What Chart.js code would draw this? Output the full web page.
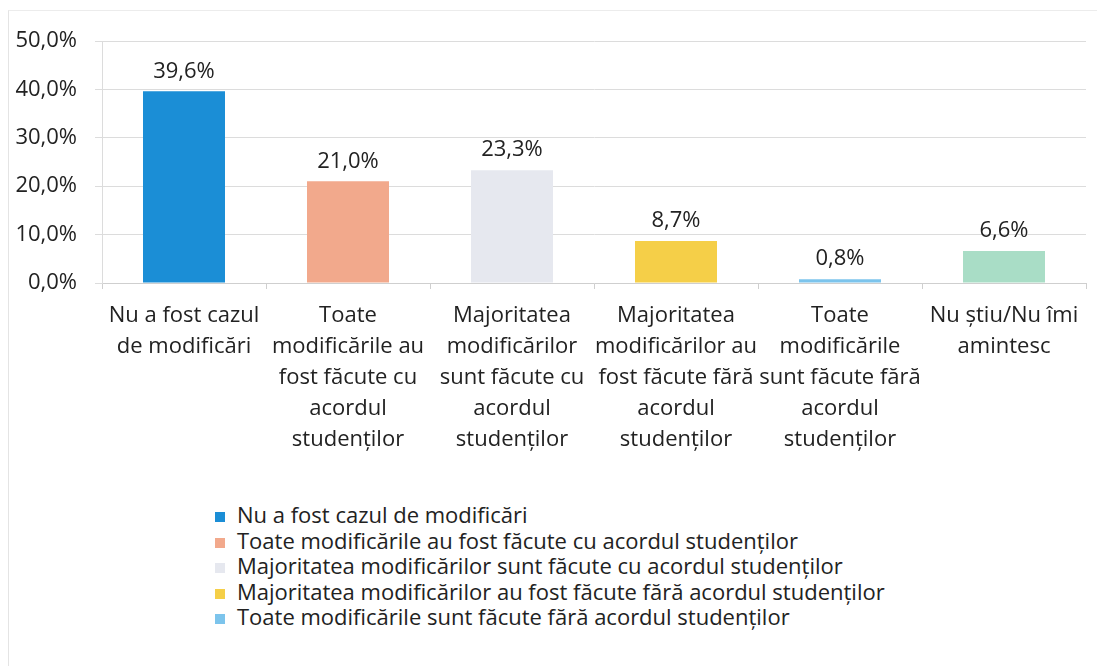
<!DOCTYPE html>
<html>
<head>
<meta charset="utf-8">
<script src="https://cdn.jsdelivr.net/npm/chart.js@4/dist/chart.umd.min.js"></script>
<style>
  html, body { margin: 0; padding: 0; background: #fff; overflow: hidden; }
  #wrap { position: relative; width: 1097px; height: 666px; }
  #frame { position: absolute; left: 8px; top: 10px; right: 0; bottom: 0; border-left: 1px solid #e4e4e4; border-top: 1px solid #ececec; }
  canvas { position: absolute; left: 0; top: 0; }
  #legend { position: absolute; left: 215px; top: 502px; font-family: "Open Sans", sans-serif; font-size: 22px; color: #222; }
  #legend div { height: 25.5px; line-height: 25.5px; white-space: nowrap; }
  #legend span { display: inline-block; width: 10px; height: 10px; margin-right: 12px; vertical-align: 1px; }
</style>
</head>
<body>
<div id="wrap">
  <div id="frame"></div>
  <canvas id="chart" width="1097" height="470"></canvas>
  <div id="legend"></div>
</div>
<script>
const categories = [
  ['Nu a fost cazul', 'de modificări'],
  ['Toate', 'modificările au', 'fost făcute cu', 'acordul', 'studenților'],
  ['Majoritatea', 'modificărilor', 'sunt făcute cu', 'acordul', 'studenților'],
  ['Majoritatea', 'modificărilor au', 'fost făcute fără', 'acordul', 'studenților'],
  ['Toate', 'modificările', 'sunt făcute fără', 'acordul', 'studenților'],
  ['Nu știu/Nu îmi', 'amintesc']
]
const legendNames = [
  'Nu a fost cazul de modificări',
  'Toate modificările au fost făcute cu acordul studenților',
  'Majoritatea modificărilor sunt făcute cu acordul studenților',
  'Majoritatea modificărilor au fost făcute fără acordul studenților',
  'Toate modificările sunt făcute fără acordul studenților'
]
const values = [39.6, 21.0, 23.3, 8.7, 0.8, 6.6]
const yTicks = [0, 10, 20, 30, 40, 50]
const barColors = ['#1b8ed6', '#f2a98c', '#e6e8ef', '#f5cf48', '#7cc4ec', '#a9ddc6']

const fmt = v => v.toFixed(1).replace('.', ',') + '%'
const font = '"Open Sans", sans-serif'

const valueLabels = {
  id: 'valueLabels',
  afterDatasetsDraw(chart) {
    const { ctx } = chart
    ctx.save()
    ctx.font = '22px ' + font
    ctx.fillStyle = '#222'
    ctx.textAlign = 'center'
    ctx.textBaseline = 'middle'
    chart.getDatasetMeta(0).data.forEach((bar, i) => {
      ctx.fillText(fmt(values[i]), bar.x, bar.y - 20)
    })
    ctx.restore()
  }
}

new Chart(document.getElementById('chart'), {
  type: 'bar',
  data: {
    labels: categories,
    datasets: [{
      data: values,
      backgroundColor: barColors,
      borderWidth: 0,
      categoryPercentage: 1,
      barPercentage: 0.5
    }]
  },
  options: {
    responsive: false,
    animation: false,
    layout: { padding: { top: 41, right: 11, bottom: 0, left: 0 } },
    plugins: { legend: { display: false }, tooltip: { enabled: false } },
    scales: {
      x: {
        afterFit: s => { s.height = 187 },
        grid: { drawOnChartArea: false, drawTicks: true, tickLength: 6, color: '#cfcfcf' },
        border: { color: '#cfcfcf' },
        ticks: { color: '#222', padding: 11, maxRotation: 0, autoSkip: false, font: { family: font, size: 22, lineHeight: 1.41 } }
      },
      y: {
        min: 0,
        max: 50,
        afterFit: s => { s.width = 102 },
        afterBuildTicks: s => { s.ticks = yTicks.map(v => ({ value: v })) },
        grid: { color: '#dcdcdc', tickLength: 7 },
        border: { color: '#dcdcdc' },
        ticks: { color: '#222', padding: 18, font: { family: font, size: 22 }, callback: v => fmt(v) }
      }
    }
  },
  plugins: [valueLabels]
})

document.getElementById('legend').innerHTML = legendNames
  .map((n, i) => `<div><span style="background:${barColors[i]}"></span>${n}</div>`)
  .join('')
</script>
</body>
</html>
